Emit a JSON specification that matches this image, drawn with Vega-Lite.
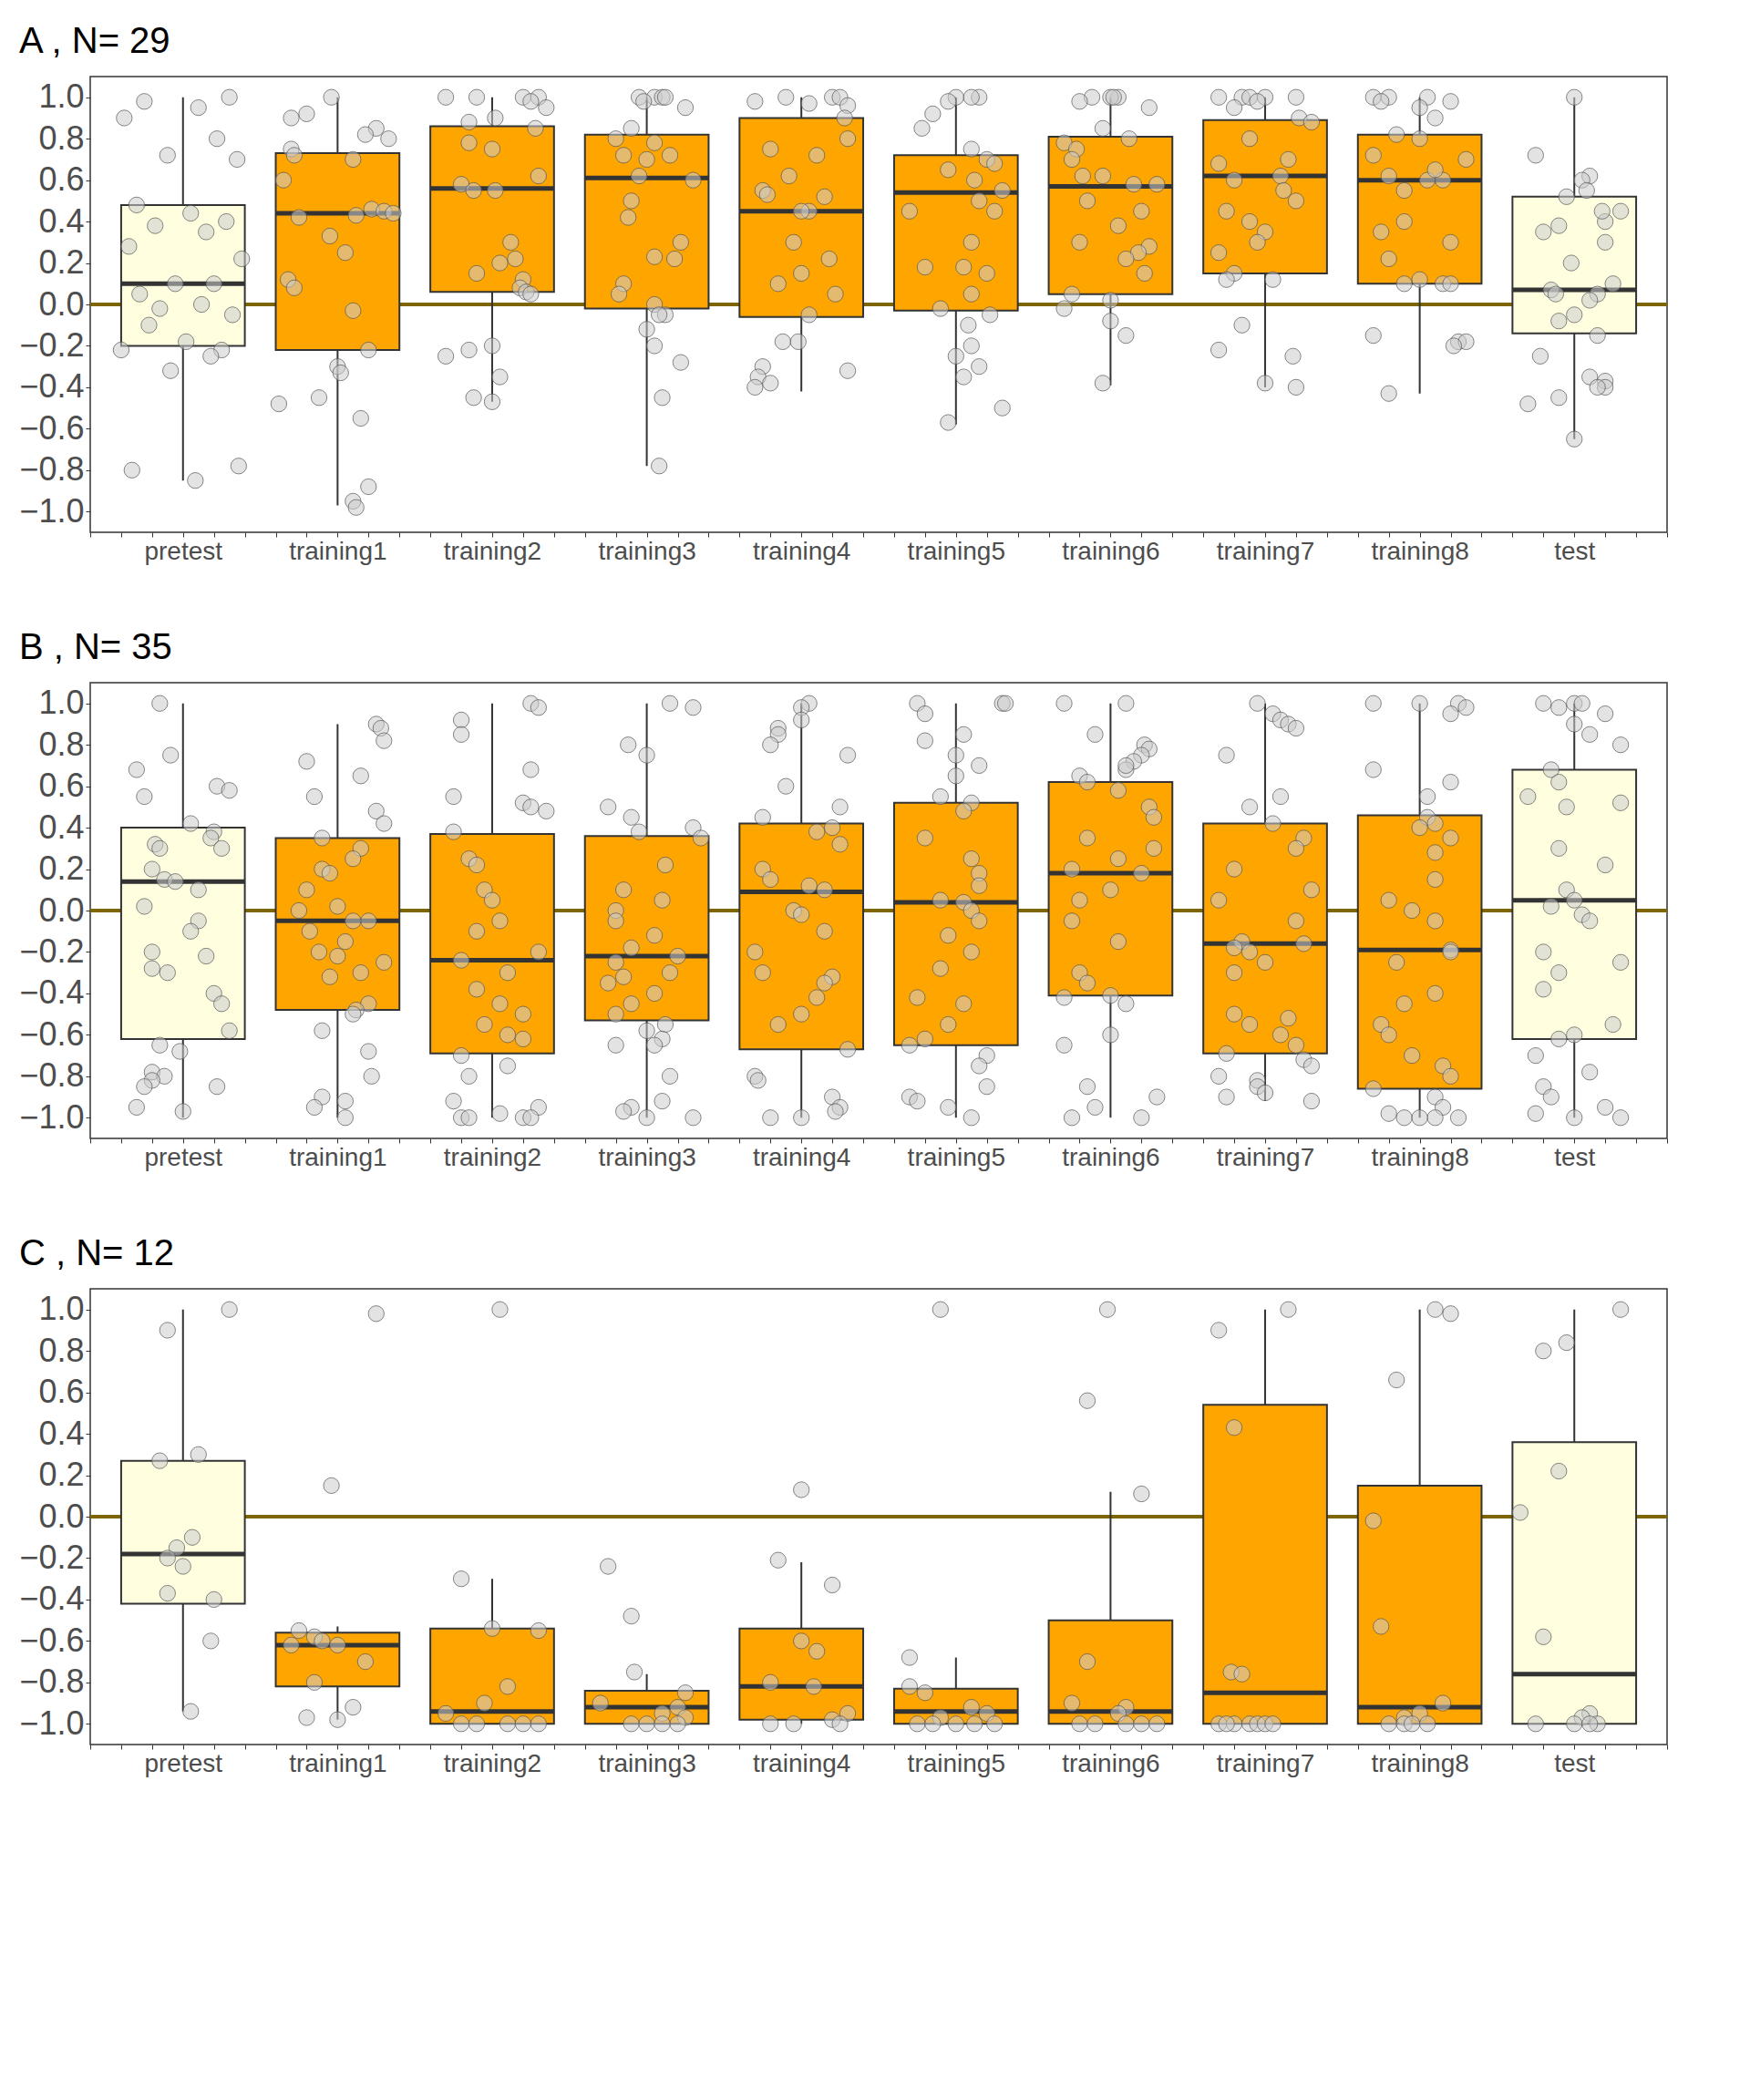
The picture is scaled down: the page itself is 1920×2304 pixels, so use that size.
{
"$schema":"https://vega.github.io/schema/vega-lite/v6.json",
"background":"white",
"padding":{"left":20,"top":25,"right":10,"bottom":10},
"spacing":70,
"config":{"font":"Liberation Sans","view":{"stroke":"#333333","strokeWidth":1.5},
"axis":{"labelFontSize":28,"titleFontSize":37,"labelColor":"#4d4d4d","titleColor":"black","titleFontWeight":"normal","tickColor":"#333333","domain":false,"gridColor":"#dddddd","gridWidth":1.5,"labelAngle":0},
"axisX":{"grid":false,"values":[1,2,3,4,5,6,7,8,9,10],"labelExpr":"['pretest','training1','training2','training3','training4','training5','training6','training7','training8','test'][datum.value-1]","title":"Experiment Sequence","titlePadding":8},
"axisY":{"values":[-1,-0.6,-0.2,0.2,0.6,1],"format":".1f","title":"PI [rel. units]","labelFontSize":36,"titlePadding":10},
"title":{"fontSize":40,"fontWeight":"normal","anchor":"start","offset":18},
"circle":{"size":300,"fill":"#cccccc","fillOpacity":0.55,"stroke":"#555555","strokeWidth":1,"strokeOpacity":0.7}},
"datasets":{
"boxes":[
{"p":"A","i":1,"lo":-0.85,"q1":-0.2,"med":0.1,"q3":0.48,"hi":1.0,"f":"y"},
{"p":"A","i":2,"lo":-0.97,"q1":-0.22,"med":0.44,"q3":0.73,"hi":1.0,"f":"o"},
{"p":"A","i":3,"lo":-0.47,"q1":0.06,"med":0.56,"q3":0.86,"hi":1.0,"f":"o"},
{"p":"A","i":4,"lo":-0.78,"q1":-0.02,"med":0.61,"q3":0.82,"hi":1.0,"f":"o"},
{"p":"A","i":5,"lo":-0.42,"q1":-0.06,"med":0.45,"q3":0.9,"hi":1.0,"f":"o"},
{"p":"A","i":6,"lo":-0.58,"q1":-0.03,"med":0.54,"q3":0.72,"hi":1.0,"f":"o"},
{"p":"A","i":7,"lo":-0.39,"q1":0.05,"med":0.57,"q3":0.81,"hi":1.0,"f":"o"},
{"p":"A","i":8,"lo":-0.4,"q1":0.15,"med":0.62,"q3":0.89,"hi":1.0,"f":"o"},
{"p":"A","i":9,"lo":-0.43,"q1":0.1,"med":0.6,"q3":0.82,"hi":1.0,"f":"o"},
{"p":"A","i":10,"lo":-0.65,"q1":-0.14,"med":0.07,"q3":0.52,"hi":1.0,"f":"y"},
{"p":"B","i":1,"lo":-1,"q1":-0.62,"med":0.14,"q3":0.4,"hi":1.0,"f":"y"},
{"p":"B","i":2,"lo":-1,"q1":-0.48,"med":-0.05,"q3":0.35,"hi":0.9,"f":"o"},
{"p":"B","i":3,"lo":-1,"q1":-0.69,"med":-0.24,"q3":0.37,"hi":1.0,"f":"o"},
{"p":"B","i":4,"lo":-1,"q1":-0.53,"med":-0.22,"q3":0.36,"hi":1.0,"f":"o"},
{"p":"B","i":5,"lo":-1,"q1":-0.67,"med":0.09,"q3":0.42,"hi":1.0,"f":"o"},
{"p":"B","i":6,"lo":-1,"q1":-0.65,"med":0.04,"q3":0.52,"hi":1.0,"f":"o"},
{"p":"B","i":7,"lo":-1,"q1":-0.41,"med":0.18,"q3":0.62,"hi":1.0,"f":"o"},
{"p":"B","i":8,"lo":-0.92,"q1":-0.69,"med":-0.16,"q3":0.42,"hi":1.0,"f":"o"},
{"p":"B","i":9,"lo":-1,"q1":-0.86,"med":-0.19,"q3":0.46,"hi":1.0,"f":"o"},
{"p":"B","i":10,"lo":-1,"q1":-0.62,"med":0.05,"q3":0.68,"hi":1.0,"f":"y"},
{"p":"C","i":1,"lo":-0.94,"q1":-0.42,"med":-0.18,"q3":0.27,"hi":1.0,"f":"y"},
{"p":"C","i":2,"lo":-0.98,"q1":-0.82,"med":-0.62,"q3":-0.56,"hi":-0.53,"f":"o"},
{"p":"C","i":3,"lo":-1,"q1":-1.0,"med":-0.94,"q3":-0.54,"hi":-0.3,"f":"o"},
{"p":"C","i":4,"lo":-1,"q1":-1.0,"med":-0.92,"q3":-0.84,"hi":-0.76,"f":"o"},
{"p":"C","i":5,"lo":-1,"q1":-0.98,"med":-0.82,"q3":-0.54,"hi":-0.22,"f":"o"},
{"p":"C","i":6,"lo":-1,"q1":-1.0,"med":-0.94,"q3":-0.83,"hi":-0.68,"f":"o"},
{"p":"C","i":7,"lo":-1,"q1":-1.0,"med":-0.94,"q3":-0.5,"hi":0.12,"f":"o"},
{"p":"C","i":8,"lo":-1,"q1":-1.0,"med":-0.85,"q3":0.54,"hi":1.0,"f":"o"},
{"p":"C","i":9,"lo":-1,"q1":-1.0,"med":-0.92,"q3":0.15,"hi":1.0,"f":"o"},
{"p":"C","i":10,"lo":-1,"q1":-1.0,"med":-0.76,"q3":0.36,"hi":1.0,"f":"y"}
],
"pts":[
{"p":"A","i":1,"v":[1.0,0.98,0.95,0.9,0.8,0.72,0.7,0.48,0.44,0.4,0.38,0.35,0.28,0.22,0.1,0.1,0.05,0.0,-0.02,-0.05,-0.1,-0.18,-0.22,-0.22,-0.25,-0.32,-0.78,-0.8,-0.85],"j":[0.3,-0.25,0.1,-0.38,0.22,-0.1,0.35,-0.3,0.05,0.28,-0.18,0.15,-0.35,0.38,-0.05,0.2,-0.28,0.12,-0.15,0.32,-0.22,0.02,0.25,-0.4,0.18,-0.08,0.36,-0.33,0.08]},
{"p":"A","i":2,"v":[1.0,0.92,0.9,0.85,0.82,0.8,0.75,0.72,0.7,0.6,0.46,0.45,0.44,0.43,0.42,0.33,0.25,0.12,0.08,-0.03,-0.22,-0.3,-0.33,-0.45,-0.48,-0.55,-0.88,-0.95,-0.98],"j":[-0.04,-0.2,-0.3,0.25,0.18,0.33,-0.3,-0.28,0.1,-0.35,0.22,0.3,0.36,0.12,-0.25,-0.05,0.05,-0.32,-0.28,0.1,0.2,0.0,0.02,-0.12,-0.38,0.15,0.2,0.1,0.12]},
{"p":"A","i":3,"v":[1,1,1,1,0.98,0.95,0.9,0.88,0.85,0.78,0.75,0.62,0.58,0.55,0.55,0.3,0.22,0.2,0.15,0.12,0.08,0.06,0.05,-0.2,-0.22,-0.25,-0.35,-0.45,-0.47],"j":[-0.3,-0.1,0.2,0.3,0.25,0.35,0.02,-0.15,0.28,-0.15,0.0,0.3,-0.2,-0.12,0.02,0.12,0.15,0.05,-0.1,0.2,0.18,0.22,0.25,0.0,-0.15,-0.3,0.05,-0.12,0.0]},
{"p":"A","i":4,"v":[1,1,1,1,0.98,0.95,0.8,0.78,0.72,0.7,0.62,0.6,0.5,0.42,0.3,0.23,0.22,0.1,0.05,0.0,-0.05,-0.05,-0.12,-0.2,-0.28,-0.45,-0.78,0.72,0.85],"j":[-0.05,0.05,0.1,0.12,-0.02,0.25,-0.2,0.05,-0.15,0.0,-0.05,0.3,-0.1,-0.12,0.22,0.05,0.18,-0.15,-0.18,0.05,0.12,0.08,0.0,0.05,0.22,0.1,0.08,0.15,-0.1]},
{"p":"A","i":5,"v":[1,1,1,0.98,0.97,0.96,0.9,0.8,0.75,0.72,0.55,0.53,0.52,0.45,0.45,0.3,0.22,0.15,0.1,0.05,-0.05,-0.18,-0.18,-0.3,-0.32,-0.35,-0.38,-0.4,0.62],"j":[-0.1,0.2,0.25,-0.3,0.05,0.3,0.28,0.3,-0.2,0.1,-0.25,-0.22,0.15,0.05,0.0,-0.05,0.18,0.0,-0.15,0.22,0.05,-0.12,-0.02,-0.25,0.3,-0.28,-0.2,-0.3,-0.08]},
{"p":"A","i":6,"v":[1,1,1,0.98,0.92,0.85,0.75,0.7,0.68,0.65,0.6,0.55,0.5,0.45,0.45,0.3,0.18,0.18,0.15,0.05,-0.02,-0.05,-0.1,-0.2,-0.25,-0.3,-0.35,-0.5,-0.57],"j":[0.0,0.15,0.1,-0.05,-0.15,-0.22,0.1,0.2,0.25,-0.05,0.12,0.3,0.15,-0.3,0.25,0.1,-0.2,0.05,0.2,0.1,-0.1,0.22,0.08,0.1,0.0,0.15,0.05,0.3,-0.05]},
{"p":"A","i":7,"v":[1,1,1,1,0.98,0.95,0.85,0.8,0.78,0.75,0.7,0.62,0.58,0.58,0.5,0.38,0.28,0.25,0.22,0.05,0.02,-0.02,-0.08,-0.15,-0.38,0.62,0.3,0.45,0.15],"j":[-0.12,0.05,0.0,0.02,-0.2,0.25,-0.05,0.12,-0.3,-0.22,-0.25,-0.18,0.15,0.3,-0.15,0.05,0.25,0.18,0.1,-0.25,0.0,-0.3,0.0,0.1,-0.05,-0.05,-0.2,0.2,0.22]},
{"p":"A","i":8,"v":[1,1,1,1,1,0.98,0.95,0.9,0.88,0.8,0.7,0.68,0.62,0.6,0.5,0.45,0.4,0.35,0.3,0.25,0.15,0.12,0.12,-0.1,-0.22,-0.25,-0.38,-0.4,0.55],"j":[-0.3,-0.15,-0.1,0.2,0.0,-0.05,-0.2,0.22,0.3,-0.1,0.15,-0.3,0.1,-0.2,0.2,-0.25,-0.1,0.0,-0.05,-0.3,-0.2,-0.25,0.05,-0.15,-0.3,0.18,0.0,0.2,0.12]},
{"p":"A","i":9,"v":[1,1,1,0.98,0.98,0.95,0.9,0.82,0.8,0.72,0.7,0.62,0.6,0.6,0.55,0.4,0.35,0.3,0.22,0.12,0.1,0.1,0.1,-0.18,-0.15,-0.18,-0.2,-0.43,0.65],"j":[-0.3,0.05,-0.2,-0.25,0.2,0.0,0.1,-0.15,0.0,-0.3,0.3,-0.2,0.15,0.05,-0.1,-0.1,-0.25,0.2,-0.2,0.0,-0.1,0.15,0.2,0.25,-0.3,0.3,0.22,-0.2,0.1]},
{"p":"A","i":10,"v":[1,0.72,0.62,0.6,0.55,0.52,0.45,0.4,0.38,0.35,0.3,0.2,0.1,0.07,0.05,0.05,0.02,-0.05,-0.08,-0.15,-0.25,-0.35,-0.37,-0.4,-0.4,-0.45,-0.48,-0.65,0.45],"j":[0.0,-0.25,0.1,0.05,0.08,-0.05,0.3,0.2,-0.1,-0.2,0.2,-0.02,0.25,-0.15,-0.12,0.15,0.1,0.0,-0.1,0.15,-0.22,0.1,0.2,0.2,0.15,-0.1,-0.3,0.0,0.18]},
{"p":"B","i":1,"v":[1,0.75,0.68,0.6,0.58,0.55,0.42,0.38,0.35,0.32,0.3,0.3,0.2,0.15,0.14,0.1,0.02,-0.05,-0.1,-0.2,-0.22,-0.28,-0.3,-0.4,-0.45,-0.58,-0.65,-0.68,-0.78,-0.8,-0.82,-0.85,-0.85,-0.95,-0.97],"j":[-0.15,-0.08,-0.3,0.22,0.3,-0.25,0.05,0.2,0.18,-0.18,-0.15,0.25,-0.2,-0.12,-0.05,0.1,-0.25,0.1,0.05,-0.2,0.15,-0.2,-0.1,0.2,0.25,0.3,-0.15,-0.02,-0.2,-0.12,-0.2,0.22,-0.25,-0.3,0.0]},
{"p":"B","i":2,"v":[0.9,0.88,0.82,0.72,0.65,0.55,0.48,0.42,0.35,0.3,0.2,0.18,0.1,0.02,0.0,-0.05,-0.05,-0.1,-0.15,-0.2,-0.22,-0.25,-0.3,-0.32,-0.45,-0.48,-0.5,-0.58,-0.68,-0.8,-0.9,-0.92,-0.95,-1,0.25],"j":[0.25,0.28,0.3,-0.2,0.15,-0.15,0.25,0.3,-0.1,0.15,-0.1,-0.05,-0.2,0.0,-0.25,0.2,0.1,-0.18,0.05,-0.12,0.0,0.3,0.15,-0.05,0.2,0.12,0.1,-0.1,0.2,0.22,-0.1,0.05,-0.15,0.05,0.1]},
{"p":"B","i":3,"v":[1,0.98,0.92,0.85,0.68,0.55,0.52,0.5,0.48,0.38,0.25,0.22,0.1,0.05,-0.05,-0.1,-0.2,-0.24,-0.3,-0.38,-0.45,-0.5,-0.55,-0.6,-0.62,-0.7,-0.75,-0.8,-0.92,-0.95,-0.98,-1,-1,-1,-1],"j":[0.25,0.3,-0.2,-0.2,0.25,-0.25,0.2,0.25,0.35,-0.25,-0.15,-0.1,-0.05,0.0,0.05,-0.1,0.3,-0.2,0.1,-0.1,0.05,0.2,-0.05,0.1,0.2,-0.2,0.1,-0.15,-0.25,0.3,0.05,-0.2,-0.15,0.2,0.25]},
{"p":"B","i":4,"v":[1,0.98,0.8,0.75,0.5,0.45,0.4,0.38,0.35,0.22,0.1,0.05,0.0,-0.05,-0.12,-0.18,-0.22,-0.25,-0.3,-0.32,-0.35,-0.4,-0.45,-0.5,-0.55,-0.58,-0.62,-0.65,-0.65,-0.8,-0.92,-0.95,-0.97,-1,-1],"j":[0.15,0.3,-0.12,0.0,-0.25,-0.1,0.3,-0.05,0.35,0.12,-0.15,0.1,-0.2,-0.2,0.05,-0.1,0.2,-0.2,0.15,-0.15,-0.25,0.05,-0.1,-0.2,0.12,0.0,0.1,0.05,-0.2,0.15,0.1,-0.1,-0.15,0.3,0.0]},
{"p":"B","i":5,"v":[1,0.98,0.92,0.88,0.85,0.8,0.75,0.5,0.45,0.4,0.38,0.32,0.2,0.15,0.12,0.1,0.0,-0.02,-0.1,-0.2,-0.3,-0.32,-0.35,-0.42,-0.5,-0.55,-0.67,-0.8,-0.82,-0.9,-0.95,-0.97,-1,-1,0.6],"j":[0.05,0.0,0.0,-0.15,-0.15,-0.2,0.3,0.25,-0.25,0.2,0.1,0.25,-0.25,-0.2,0.05,0.15,-0.05,0.0,0.15,-0.3,-0.25,0.2,0.15,0.1,0.0,-0.15,0.3,-0.3,-0.28,0.2,0.25,0.22,0.0,-0.2,-0.1]},
{"p":"B","i":6,"v":[1,1,1,0.95,0.85,0.82,0.75,0.65,0.55,0.52,0.48,0.35,0.25,0.18,0.12,0.05,0.04,0.0,-0.05,-0.12,-0.2,-0.28,-0.42,-0.45,-0.55,-0.62,-0.65,-0.7,-0.75,-0.85,-0.9,-0.95,-0.92,-1,0.7],"j":[-0.25,0.3,0.32,-0.2,0.05,-0.2,0.0,0.0,-0.1,0.1,0.05,-0.2,0.1,0.15,0.15,-0.1,0.05,0.1,0.15,-0.05,0.1,-0.1,-0.25,0.05,-0.05,-0.2,-0.3,0.2,0.15,0.2,-0.3,-0.05,-0.25,0.1,0.15]},
{"p":"B","i":7,"v":[1,1,0.85,0.8,0.78,0.75,0.72,0.68,0.65,0.62,0.58,0.5,0.45,0.35,0.3,0.25,0.2,0.18,0.1,0.05,-0.05,-0.15,-0.3,-0.35,-0.41,-0.42,-0.45,-0.6,-0.65,-0.85,-0.9,-0.95,-1,-1,0.7],"j":[-0.3,0.1,-0.1,0.22,0.25,0.2,0.15,0.1,-0.2,-0.15,0.05,0.25,0.28,-0.15,0.28,0.05,-0.25,0.2,0.0,-0.2,-0.25,0.05,-0.2,-0.15,0.0,-0.3,0.1,0.0,-0.3,-0.15,0.3,-0.1,-0.25,0.2,0.1]},
{"p":"B","i":8,"v":[1,0.95,0.92,0.9,0.88,0.75,0.55,0.5,0.42,0.35,0.2,0.1,0.05,-0.05,-0.15,-0.16,-0.18,-0.2,-0.25,-0.3,-0.5,-0.52,-0.55,-0.6,-0.65,-0.69,-0.72,-0.75,-0.8,-0.82,-0.85,-0.88,-0.9,-0.92,0.3],"j":[-0.05,0.05,0.1,0.15,0.2,-0.25,0.1,-0.1,0.05,0.25,-0.2,0.3,-0.3,0.2,-0.15,0.25,-0.2,-0.1,0.0,-0.2,-0.2,0.15,-0.1,0.1,0.2,-0.25,0.25,0.3,-0.3,-0.05,-0.05,0.0,-0.25,0.3,0.2]},
{"p":"B","i":9,"v":[1,1,1,0.98,0.95,0.68,0.62,0.55,0.45,0.42,0.4,0.35,0.28,0.15,0.05,0.0,-0.05,-0.19,-0.2,-0.25,-0.4,-0.45,-0.55,-0.6,-0.7,-0.75,-0.8,-0.86,-0.9,-0.95,-0.98,-1,-1,-1,-1],"j":[-0.3,0.0,0.25,0.3,0.2,-0.3,0.2,0.05,0.05,0.1,0.0,0.2,0.1,0.1,-0.2,-0.05,0.1,0.2,0.2,-0.15,0.1,-0.1,-0.25,-0.2,-0.05,0.15,0.2,-0.3,0.1,0.15,-0.2,0.1,0.25,-0.1,0.0]},
{"p":"B","i":10,"v":[1,1,1,0.98,0.95,0.9,0.85,0.8,0.68,0.62,0.55,0.52,0.5,0.3,0.22,0.1,0.05,0.02,-0.02,-0.05,-0.2,-0.25,-0.3,-0.38,-0.55,-0.6,-0.62,-0.7,-0.78,-0.85,-0.9,-0.95,-0.98,-1,-1],"j":[-0.2,0.0,0.05,-0.1,0.2,0.0,0.1,0.3,-0.15,-0.1,-0.3,0.3,-0.05,-0.1,0.2,-0.05,0.0,-0.15,0.05,0.1,-0.2,0.3,-0.1,-0.2,0.25,0.0,-0.1,-0.25,0.1,-0.2,-0.15,0.2,-0.25,0.0,0.3]},
{"p":"C","i":1,"v":[1,0.9,0.3,0.27,-0.1,-0.15,-0.2,-0.24,-0.37,-0.4,-0.6,-0.94],"j":[0.3,-0.1,0.1,-0.15,0.06,-0.04,-0.1,0.0,-0.1,0.2,0.18,0.05]},
{"p":"C","i":2,"v":[0.98,0.15,-0.55,-0.58,-0.6,-0.62,-0.62,-0.7,-0.8,-0.92,-0.97,-0.98],"j":[0.25,-0.04,-0.25,-0.15,-0.1,0.0,-0.3,0.18,-0.15,0.1,-0.2,0.0]},
{"p":"C","i":3,"v":[1,-0.3,-0.54,-0.55,-0.82,-0.9,-0.95,-1,-1,-1,-1,-1],"j":[0.05,-0.2,0.0,0.3,0.1,-0.05,-0.3,-0.2,-0.1,0.1,0.3,0.2]},
{"p":"C","i":4,"v":[-0.24,-0.48,-0.75,-0.85,-0.9,-0.92,-0.95,-0.97,-1,-1,-1,-1],"j":[-0.25,-0.1,-0.08,0.25,-0.3,0.2,0.1,0.25,-0.1,0.0,0.2,0.1]},
{"p":"C","i":5,"v":[0.13,-0.21,-0.33,-0.6,-0.65,-0.8,-0.82,-0.95,-0.98,-1,-1,-1],"j":[0.0,-0.15,0.2,0.0,0.1,-0.2,0.08,0.3,0.2,0.25,-0.2,-0.05]},
{"p":"C","i":6,"v":[1,-0.68,-0.82,-0.85,-0.92,-0.95,-0.97,-1,-1,-1,-1,-1],"j":[-0.1,-0.3,-0.3,-0.2,0.1,0.2,-0.1,-0.25,0.0,0.12,0.25,-0.15]},
{"p":"C","i":7,"v":[1,0.56,0.11,-0.7,-0.9,-0.92,-0.95,-1,-1,-1,-1,-1],"j":[-0.02,-0.15,0.2,-0.15,-0.25,0.1,0.05,-0.2,-0.1,0.1,0.2,0.3]},
{"p":"C","i":8,"v":[1,0.9,0.43,-0.75,-0.76,-1,-1,-1,-1,-1,-1,-1],"j":[0.15,-0.3,-0.2,-0.22,-0.15,-0.3,-0.2,-0.1,-0.05,0.0,0.05,-0.25]},
{"p":"C","i":9,"v":[1,0.98,0.66,-0.02,-0.53,-0.9,-0.95,-0.97,-1,-1,-1,-1],"j":[0.1,0.2,-0.15,-0.3,-0.25,0.15,0.0,-0.1,-0.2,-0.1,0.05,-0.05]},
{"p":"C","i":10,"v":[1,0.84,0.8,0.22,0.02,-0.58,-0.95,-0.97,-1,-1,-1,-1],"j":[0.3,-0.05,-0.2,-0.1,-0.35,-0.2,0.1,0.05,0.0,-0.25,0.15,0.1]}
]},
"vconcat":[
{"title":"A , N= 29","width":1730,"height":500,"layer":[
{"data":{"values":[{}]},"mark":{"type":"rule","color":"#7f6500","strokeWidth":4},"encoding":{"y":{"datum":0,"type":"quantitative","scale":{"domain":[-1.1,1.1],"nice":false}}}},
{"data":{"name":"boxes"},"transform":[{"filter":"datum.p==='A'"},{"calculate":"datum.i-0.4","as":"xl"},{"calculate":"datum.i+0.4","as":"xr"}],"layer":[
{"mark":{"type":"rule","color":"#333333","strokeWidth":2},"encoding":{"x":{"field":"i","type":"quantitative","scale":{"domain":[0.4,10.6],"nice":false,"zero":false}},"y":{"field":"lo","type":"quantitative"},"y2":{"field":"hi"}}},
{"mark":{"type":"rect","stroke":"#333333","strokeWidth":2},"encoding":{"x":{"field":"xl","type":"quantitative"},"x2":{"field":"xr"},"y":{"field":"q1","type":"quantitative"},"y2":{"field":"q3"},"fill":{"field":"f","type":"nominal","scale":{"domain":["o","y"],"range":["#FFA500","#FFFFE0"]},"legend":null}}},
{"mark":{"type":"rule","strokeWidth":5,"color":"#333333"},"encoding":{"x":{"field":"xl","type":"quantitative"},"x2":{"field":"xr"},"y":{"field":"med","type":"quantitative"}}}]},
{"data":{"name":"pts"},"transform":[{"filter":"datum.p==='A'"},{"flatten":["v","j"]},{"filter":"datum.v!=null"},{"calculate":"datum.i+datum.j","as":"x"}],"mark":{"type":"circle"},"encoding":{"x":{"field":"x","type":"quantitative"},"y":{"field":"v","type":"quantitative"}}}
]},
{"title":"B , N= 35","width":1730,"height":500,"layer":[
{"data":{"values":[{}]},"mark":{"type":"rule","color":"#7f6500","strokeWidth":4},"encoding":{"y":{"datum":0,"type":"quantitative","scale":{"domain":[-1.1,1.1],"nice":false}}}},
{"data":{"name":"boxes"},"transform":[{"filter":"datum.p==='B'"},{"calculate":"datum.i-0.4","as":"xl"},{"calculate":"datum.i+0.4","as":"xr"}],"layer":[
{"mark":{"type":"rule","color":"#333333","strokeWidth":2},"encoding":{"x":{"field":"i","type":"quantitative","scale":{"domain":[0.4,10.6],"nice":false,"zero":false}},"y":{"field":"lo","type":"quantitative"},"y2":{"field":"hi"}}},
{"mark":{"type":"rect","stroke":"#333333","strokeWidth":2},"encoding":{"x":{"field":"xl","type":"quantitative"},"x2":{"field":"xr"},"y":{"field":"q1","type":"quantitative"},"y2":{"field":"q3"},"fill":{"field":"f","type":"nominal","scale":{"domain":["o","y"],"range":["#FFA500","#FFFFE0"]},"legend":null}}},
{"mark":{"type":"rule","strokeWidth":5,"color":"#333333"},"encoding":{"x":{"field":"xl","type":"quantitative"},"x2":{"field":"xr"},"y":{"field":"med","type":"quantitative"}}}]},
{"data":{"name":"pts"},"transform":[{"filter":"datum.p==='B'"},{"flatten":["v","j"]},{"filter":"datum.v!=null"},{"calculate":"datum.i+datum.j","as":"x"}],"mark":{"type":"circle"},"encoding":{"x":{"field":"x","type":"quantitative"},"y":{"field":"v","type":"quantitative"}}}
]},
{"title":"C , N= 12","width":1730,"height":500,"layer":[
{"data":{"values":[{}]},"mark":{"type":"rule","color":"#7f6500","strokeWidth":4},"encoding":{"y":{"datum":0,"type":"quantitative","scale":{"domain":[-1.1,1.1],"nice":false}}}},
{"data":{"name":"boxes"},"transform":[{"filter":"datum.p==='C'"},{"calculate":"datum.i-0.4","as":"xl"},{"calculate":"datum.i+0.4","as":"xr"}],"layer":[
{"mark":{"type":"rule","color":"#333333","strokeWidth":2},"encoding":{"x":{"field":"i","type":"quantitative","scale":{"domain":[0.4,10.6],"nice":false,"zero":false}},"y":{"field":"lo","type":"quantitative"},"y2":{"field":"hi"}}},
{"mark":{"type":"rect","stroke":"#333333","strokeWidth":2},"encoding":{"x":{"field":"xl","type":"quantitative"},"x2":{"field":"xr"},"y":{"field":"q1","type":"quantitative"},"y2":{"field":"q3"},"fill":{"field":"f","type":"nominal","scale":{"domain":["o","y"],"range":["#FFA500","#FFFFE0"]},"legend":null}}},
{"mark":{"type":"rule","strokeWidth":5,"color":"#333333"},"encoding":{"x":{"field":"xl","type":"quantitative"},"x2":{"field":"xr"},"y":{"field":"med","type":"quantitative"}}}]},
{"data":{"name":"pts"},"transform":[{"filter":"datum.p==='C'"},{"flatten":["v","j"]},{"filter":"datum.v!=null"},{"calculate":"datum.i+datum.j","as":"x"}],"mark":{"type":"circle"},"encoding":{"x":{"field":"x","type":"quantitative"},"y":{"field":"v","type":"quantitative"}}}
]}
]
}
